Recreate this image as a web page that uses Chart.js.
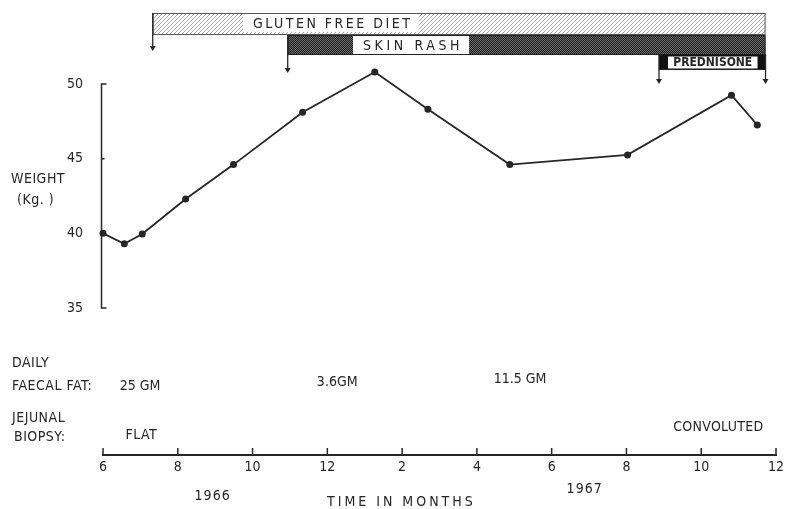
<!DOCTYPE html>
<html>
<head>
<meta charset="utf-8">
<script src="https://cdn.jsdelivr.net/npm/chart.js@4"></script>
<style>
  html, body { margin: 0; padding: 0; background: #fff; }
  canvas { display: block; }
</style>
</head>
<body>
<canvas id="weightChart" width="785" height="509"></canvas>
<script>
// months counted from June 1966 (0) to December 1967 (18)
const monthTicks = [0, 2, 4, 6, 8, 10, 12, 14, 16, 18];
const monthLabels = ['6', '8', '10', '12', '2', '4', '6', '8', '10', '12'];
const weightTicks = [35, 40, 45, 50];

// weight readings
const sampleMonths = [0, 0.57, 1.05, 2.21, 3.49, 5.34, 7.27, 8.69, 10.88, 14.03, 16.81, 17.5];
const weightKg = [40.0, 39.3, 39.95, 42.3, 44.6, 48.1, 50.8, 48.3, 44.6, 45.25, 49.25, 47.25];

// treatment / symptom periods shown above the chart
const periodNames = ['GLUTEN FREE DIET', 'SKIN RASH', 'PREDNISONE'];
const periodStart = [1.33, 4.94, 14.87];
const periodEnd = [17.72, 17.72, 17.72];

// findings written under the chart
const fatLabels = ['25 GM', '3.6GM', '11.5 GM'];
const fatMonths = [0.45, 5.72, 10.45];
const biopsyLabels = ['FLAT', 'CONVOLUTED'];
const biopsyMonths = [0.6, 15.25];
const yearLabels = ['1966', '1967'];
const yearMonths = [2.45, 12.4];

const FONT = "'Liberation Sans Narrow', 'DejaVu Sans Condensed', 'Roboto Condensed', 'DejaVu Sans', sans-serif";
const INK = '#262626';

function hatchPattern(ctx) {
  const c = document.createElement('canvas');
  c.width = 4; c.height = 4;
  const g = c.getContext('2d');
  g.fillStyle = '#fff';
  g.fillRect(0, 0, 4, 4);
  g.strokeStyle = '#a8a8a8';
  g.lineWidth = 1;
  g.beginPath();
  g.moveTo(0, 4); g.lineTo(4, 0);
  g.moveTo(-1, 1); g.lineTo(1, -1);
  g.moveTo(3, 5); g.lineTo(5, 3);
  g.stroke();
  return ctx.createPattern(c, 'repeat');
}

function stipplePattern(ctx) {
  const c = document.createElement('canvas');
  c.width = 2; c.height = 2;
  const g = c.getContext('2d');
  g.fillStyle = '#1c1c1c';
  g.fillRect(0, 0, 2, 2);
  g.fillStyle = '#6e6e6e';
  g.fillRect(0, 0, 1, 1);
  g.fillRect(1, 1, 1, 1);
  return ctx.createPattern(c, 'repeat');
}

function arrowDown(ctx, x, y0, y1) {
  ctx.beginPath();
  ctx.moveTo(x, y0);
  ctx.lineTo(x, y1 - 4);
  ctx.stroke();
  ctx.beginPath();
  ctx.moveTo(x - 3, y1 - 5);
  ctx.lineTo(x + 3, y1 - 5);
  ctx.lineTo(x, y1);
  ctx.closePath();
  ctx.fill();
}

function labelBox(ctx, text, x, yMid, spacing) {
  ctx.letterSpacing = spacing + 'px';
  const w = ctx.measureText(text).width;
  ctx.fillStyle = '#fff';
  ctx.fillRect(x - 10, yMid - 9, w + 16, 18);
  ctx.fillStyle = INK;
  ctx.fillText(text, x, yMid + 1);
  ctx.letterSpacing = '0px';
}

const overlay = {
  id: 'overlay',
  afterDraw(chart) {
    const ctx = chart.ctx;
    const xs = chart.scales.x;
    const ys = chart.scales.y;
    const px = m => xs.getPixelForValue(m);
    ctx.save();
    ctx.strokeStyle = INK;
    ctx.fillStyle = INK;
    ctx.lineWidth = 1.5;

    // weight axis from 35 to 50
    const yTop = ys.getPixelForValue(50), yBot = ys.getPixelForValue(35);
    const ax = xs.left - 1.5;
    ctx.beginPath();
    ctx.moveTo(ax + 5, yTop); ctx.lineTo(ax, yTop);
    ctx.lineTo(ax, yBot); ctx.lineTo(ax + 5, yBot);
    ctx.moveTo(ax, ys.getPixelForValue(45)); ctx.lineTo(ax + 3, ys.getPixelForValue(45));
    ctx.stroke();

    // time axis ticks pointing up
    const base = xs.top;
    monthTicks.forEach(m => {
      ctx.beginPath();
      ctx.moveTo(px(m), base);
      ctx.lineTo(px(m), base - 7);
      ctx.stroke();
    });

    // period bars
    const rows = [[13, 35], [35, 55], [54, 70]];
    const fills = [hatchPattern(ctx), stipplePattern(ctx), '#111'];
    periodNames.forEach((name, i) => {
      const x0 = px(periodStart[i]), x1 = px(periodEnd[i]);
      const [t, b] = rows[i];
      ctx.fillStyle = fills[i];
      ctx.fillRect(x0, t, x1 - x0, b - t);
      ctx.strokeStyle = i === 0 ? '#555' : '#222';
      ctx.lineWidth = 1;
      ctx.strokeRect(x0 + 0.5, t + 0.5, x1 - x0 - 1, b - t - 1);
    });
    ctx.strokeStyle = INK;
    ctx.fillStyle = INK;
    ctx.lineWidth = 1.3;
    arrowDown(ctx, px(periodStart[0]), 13, 51);
    arrowDown(ctx, px(periodStart[1]), 35, 73);
    arrowDown(ctx, px(periodStart[2]), 55, 84);
    arrowDown(ctx, px(periodEnd[2]), 55, 84);

    ctx.font = '14px ' + FONT;
    ctx.textBaseline = 'middle';
    ctx.textAlign = 'left';
    labelBox(ctx, periodNames[0], 253, 23, 2.5);
    labelBox(ctx, periodNames[1], 363, 45, 3.6);

    // prednisone label sits in its own white box inside the black band
    const pl = px(periodStart[2]) + 9, pr = px(periodEnd[2]) - 8;
    ctx.fillStyle = '#fff';
    ctx.fillRect(pl, 56.5, pr - pl, 12);
    ctx.fillStyle = INK;
    ctx.font = 'bold 12px ' + FONT;
    ctx.textAlign = 'center';
    ctx.fillText(periodNames[2], (pl + pr) / 2, 63);
    ctx.textAlign = 'left';

    // side captions and findings
    ctx.font = '14px ' + FONT;
    ctx.fillStyle = INK;
    ctx.letterSpacing = '0.5px';
    ctx.fillText('WEIGHT', 11, 179);
    ctx.fillText('(Kg. )', 17, 200);
    ctx.fillText('DAILY', 12, 363);
    ctx.fillText('FAECAL FAT:', 12, 386);
    ctx.fillText('JEJUNAL', 12, 418);
    ctx.fillText('BIOPSY:', 14, 437);
    ctx.letterSpacing = '0px';
    fatLabels.forEach((t, i) => {
      ctx.fillText(t, px(fatMonths[i]), [386, 382, 379][i]);
    });
    biopsyLabels.forEach((t, i) => {
      ctx.letterSpacing = i === 1 ? '0.3px' : '0.5px';
      ctx.fillText(t, px(biopsyMonths[i]), [435, 427][i]);
    });
    ctx.letterSpacing = '1px';
    yearLabels.forEach((t, i) => {
      ctx.fillText(t, px(yearMonths[i]), [496, 489][i]);
    });
    ctx.letterSpacing = '3px';
    ctx.fillText('TIME IN MONTHS', 327, 502);
    ctx.restore();
  }
};

new Chart(document.getElementById('weightChart'), {
  type: 'line',
  data: {
    datasets: [{
      data: sampleMonths.map((m, i) => ({ x: m, y: weightKg[i] })),
      borderColor: INK,
      borderWidth: 1.8,
      backgroundColor: INK,
      pointRadius: 3.5,
      pointBorderWidth: 0,
      tension: 0,
      clip: false
    }]
  },
  options: {
    responsive: false,
    animation: false,
    devicePixelRatio: 1,
    layout: { padding: { left: 63, right: 9, top: 69, bottom: 0 } },
    plugins: { legend: { display: false }, tooltip: { enabled: false } },
    scales: {
      x: {
        type: 'linear',
        min: 0,
        max: 18,
        afterBuildTicks: s => { s.ticks = monthTicks.map(v => ({ value: v })); },
        afterFit: s => { s.height = 54; s.paddingLeft = 0; s.paddingRight = 0; },
        grid: { display: false, drawTicks: false },
        border: { display: true, color: INK, width: 2 },
        ticks: {
          padding: 4,
          color: INK,
          font: { family: FONT, size: 14 },
          callback: (v, i) => monthLabels[i]
        }
      },
      y: {
        min: 25.16,
        max: 51,
        afterBuildTicks: s => { s.ticks = weightTicks.map(v => ({ value: v })); },
        afterFit: s => { s.width = 40; },
        grid: { display: false, drawTicks: false },
        border: { display: false },
        ticks: {
          padding: 20,
          color: INK,
          font: { family: FONT, size: 14 }
        }
      }
    }
  },
  plugins: [overlay]
});
</script>
</body>
</html>
